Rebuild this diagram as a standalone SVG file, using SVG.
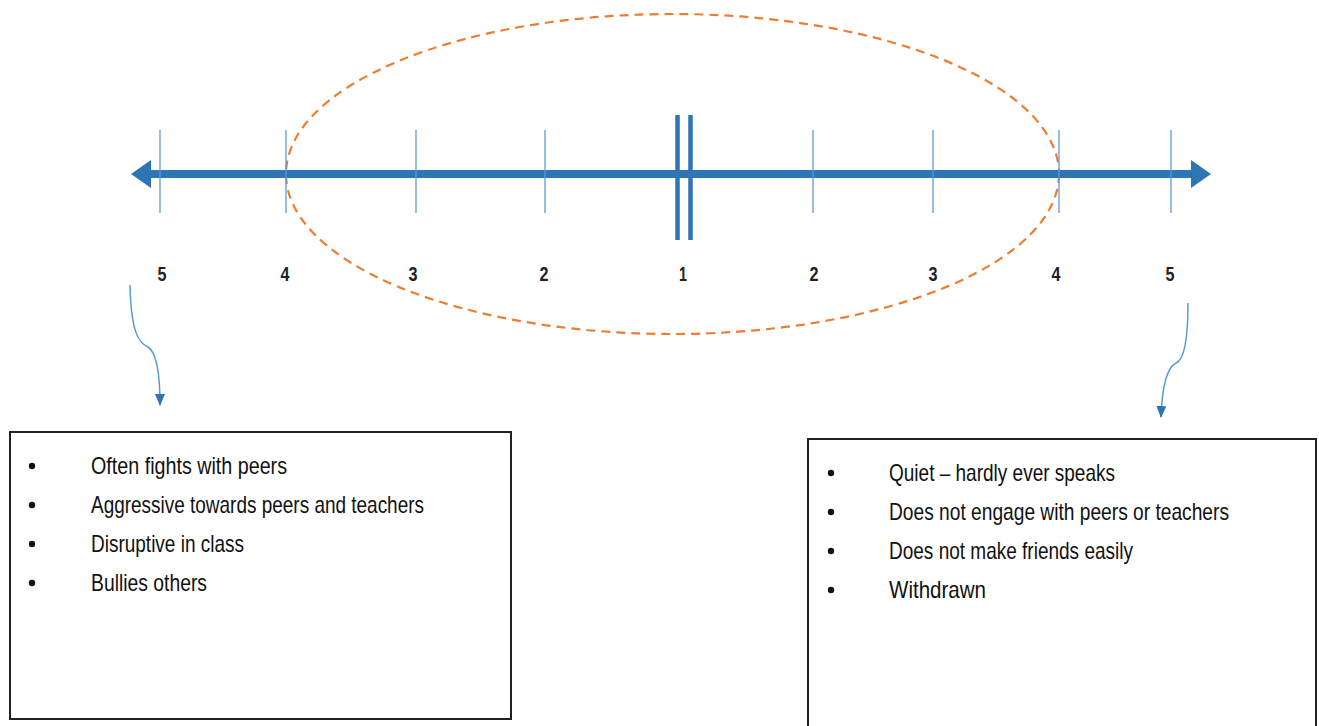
<svg xmlns="http://www.w3.org/2000/svg" width="1319" height="726" viewBox="0 0 1319 726">
<style>
.tick{stroke:#5b9bd5;stroke-width:1.3}
.bar{stroke:#2e75b6;stroke-width:4.5}
.num{font-family:"Liberation Sans","Arial",sans-serif;font-size:21px;font-weight:bold;fill:#222;text-anchor:middle}
.txt{font-family:"Liberation Sans","Arial",sans-serif;font-size:24px;fill:#111}
.box{fill:#fff;stroke:#222;stroke-width:2}
.bul{fill:#111}
.curl{fill:none;stroke:#5b9bd5;stroke-width:1.5}
</style>
<defs>
<marker id="ah" markerWidth="12" markerHeight="10" refX="11" refY="5" orient="auto" markerUnits="userSpaceOnUse" viewBox="0 0 12 10">
<path d="M0,0 L12,5 L0,10 Z" fill="#2e75b6"/>
</marker>
</defs>
<rect width="1319" height="726" fill="#fff"/>
<g id="ellipse">
<ellipse cx="672.5" cy="174" rx="386.5" ry="160" fill="none" stroke="#ed7d31" stroke-width="2.2" stroke-dasharray="9,6"/>
</g>
<g id="axis">
<line x1="148" y1="174" x2="1194" y2="174" stroke="#2e75b6" stroke-width="8"/>
<path d="M131,174 L151,160 L151,188 Z" fill="#2e75b6"/>
<path d="M1211,174 L1191,160 L1191,188 Z" fill="#2e75b6"/>
<line class="tick" x1="160" y1="130" x2="160" y2="213"/>
<line class="tick" x1="286" y1="130" x2="286" y2="213"/>
<line class="tick" x1="416" y1="130" x2="416" y2="213"/>
<line class="tick" x1="545" y1="130" x2="545" y2="213"/>
<line class="tick" x1="813" y1="130" x2="813" y2="213"/>
<line class="tick" x1="933" y1="130" x2="933" y2="213"/>
<line class="tick" x1="1059" y1="130" x2="1059" y2="213"/>
<line class="tick" x1="1171" y1="130" x2="1171" y2="213"/>
<line class="bar" x1="677.5" y1="115" x2="677.5" y2="240"/>
<line class="bar" x1="690.5" y1="115" x2="690.5" y2="240"/>
</g>
<g id="labels">
<text class="num" x="162" y="281" textLength="9" lengthAdjust="spacingAndGlyphs">5</text>
<text class="num" x="285" y="281" textLength="9" lengthAdjust="spacingAndGlyphs">4</text>
<text class="num" x="413" y="281" textLength="9" lengthAdjust="spacingAndGlyphs">3</text>
<text class="num" x="544" y="281" textLength="9" lengthAdjust="spacingAndGlyphs">2</text>
<text class="num" x="683" y="281" textLength="8" lengthAdjust="spacingAndGlyphs">1</text>
<text class="num" x="814" y="281" textLength="9" lengthAdjust="spacingAndGlyphs">2</text>
<text class="num" x="933" y="281" textLength="9" lengthAdjust="spacingAndGlyphs">3</text>
<text class="num" x="1056" y="281" textLength="9" lengthAdjust="spacingAndGlyphs">4</text>
<text class="num" x="1170" y="281" textLength="9" lengthAdjust="spacingAndGlyphs">5</text>
</g>
<g id="connectors">
<path class="curl" d="M130,285 C131,330 138,343 148,347 C156,352 160,370 160,405" marker-end="url(#ah)"/>
<path class="curl" d="M1188,303 C1188,340 1184,360 1176,363 C1166,368 1162,390 1161,417" marker-end="url(#ah)"/>
</g>
<g id="left-box">
<rect class="box" x="10" y="432" width="501" height="287"/>
<circle class="bul" cx="32" cy="466" r="3.2"/>
<circle class="bul" cx="32" cy="505" r="3.2"/>
<circle class="bul" cx="32" cy="544" r="3.2"/>
<circle class="bul" cx="32" cy="583" r="3.2"/>
<text class="txt" x="91" y="474" textLength="196" lengthAdjust="spacingAndGlyphs">Often fights with peers</text>
<text class="txt" x="91" y="513" textLength="333" lengthAdjust="spacingAndGlyphs">Aggressive towards peers and teachers</text>
<text class="txt" x="91" y="552" textLength="153" lengthAdjust="spacingAndGlyphs">Disruptive in class</text>
<text class="txt" x="91" y="591" textLength="116" lengthAdjust="spacingAndGlyphs">Bullies others</text>
</g>
<g id="right-box">
<rect class="box" x="808" y="439" width="508" height="300"/>
<circle class="bul" cx="831" cy="473" r="3.2"/>
<circle class="bul" cx="831" cy="512" r="3.2"/>
<circle class="bul" cx="831" cy="551" r="3.2"/>
<circle class="bul" cx="831" cy="590" r="3.2"/>
<text class="txt" x="889" y="481" textLength="226" lengthAdjust="spacingAndGlyphs">Quiet – hardly ever speaks</text>
<text class="txt" x="889" y="520" textLength="340" lengthAdjust="spacingAndGlyphs">Does not engage with peers or teachers</text>
<text class="txt" x="889" y="559" textLength="244" lengthAdjust="spacingAndGlyphs">Does not make friends easily</text>
<text class="txt" x="889" y="598" textLength="97" lengthAdjust="spacingAndGlyphs">Withdrawn</text>
</g>
</svg>
